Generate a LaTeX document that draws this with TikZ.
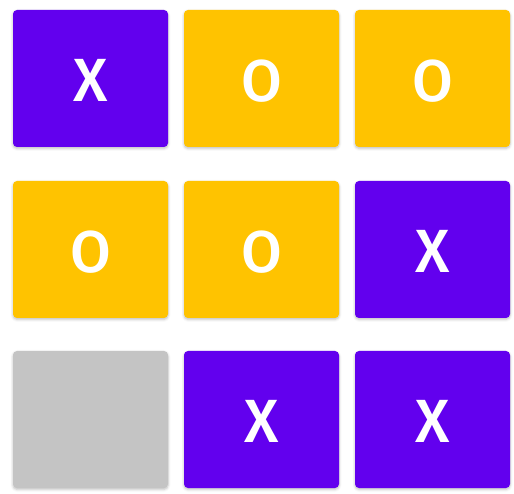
\documentclass[tikz,border=0pt]{standalone}
\usepackage{fontspec}
\setmainfont{Open Sans}
\newfontfamily\tilefont{Fira Sans}[UprightFont=* Medium]
\usepackage{xcolor}
\usepackage{tikz}
\usetikzlibrary{positioning,shadows.blur}
\definecolor{xpurple}{HTML}{6200EE}
\definecolor{oyellow}{HTML}{FFC300}
\definecolor{emptygray}{HTML}{C4C4C4}
\tikzset{
  tile/.style={rectangle,rounded corners=4pt,minimum width=155pt,minimum height=137pt,inner sep=0pt,
    text=white,text height=46pt,text depth=0pt,
    blur shadow={shadow xshift=0pt,shadow yshift=-1.5pt,shadow blur radius=2.5pt,shadow opacity=25}},
  xtile/.style={tile,fill=xpurple,font=\tilefont\fontsize{61}{61}\selectfont},
  otile/.style={tile,fill=oyellow,font=\tilefont\fontsize{59}{59}\selectfont},
  emptytile/.style={tile,fill=emptygray}
}

\begin{document}
\begin{tikzpicture}[x=1pt,y=1pt]
  \useasboundingbox (0,0) rectangle (514,493);
  \foreach \row/\y in {1/414.5,2/243.5,3/73.5}{
    \foreach \col/\x in {1/90.5,2/261.5,3/432.5}{
      \coordinate (p\row\col) at (\x,\y);
    }
  }
  % top row
  \node[xtile] (c11) at (p11) {X};
  \node[otile] (c12) at (p12) {O};
  \node[otile] (c13) at (p13) {O};
  % middle row
  \node[otile] (c21) at (p21) {O};
  \node[otile] (c22) at (p22) {O};
  \node[xtile] (c23) at (p23) {X};
  % bottom row
  \node[emptytile] (c31) at (p31) {};
  \node[xtile] (c32) at (p32) {X};
  \node[xtile] (c33) at (p33) {X};
\end{tikzpicture}
\end{document}
